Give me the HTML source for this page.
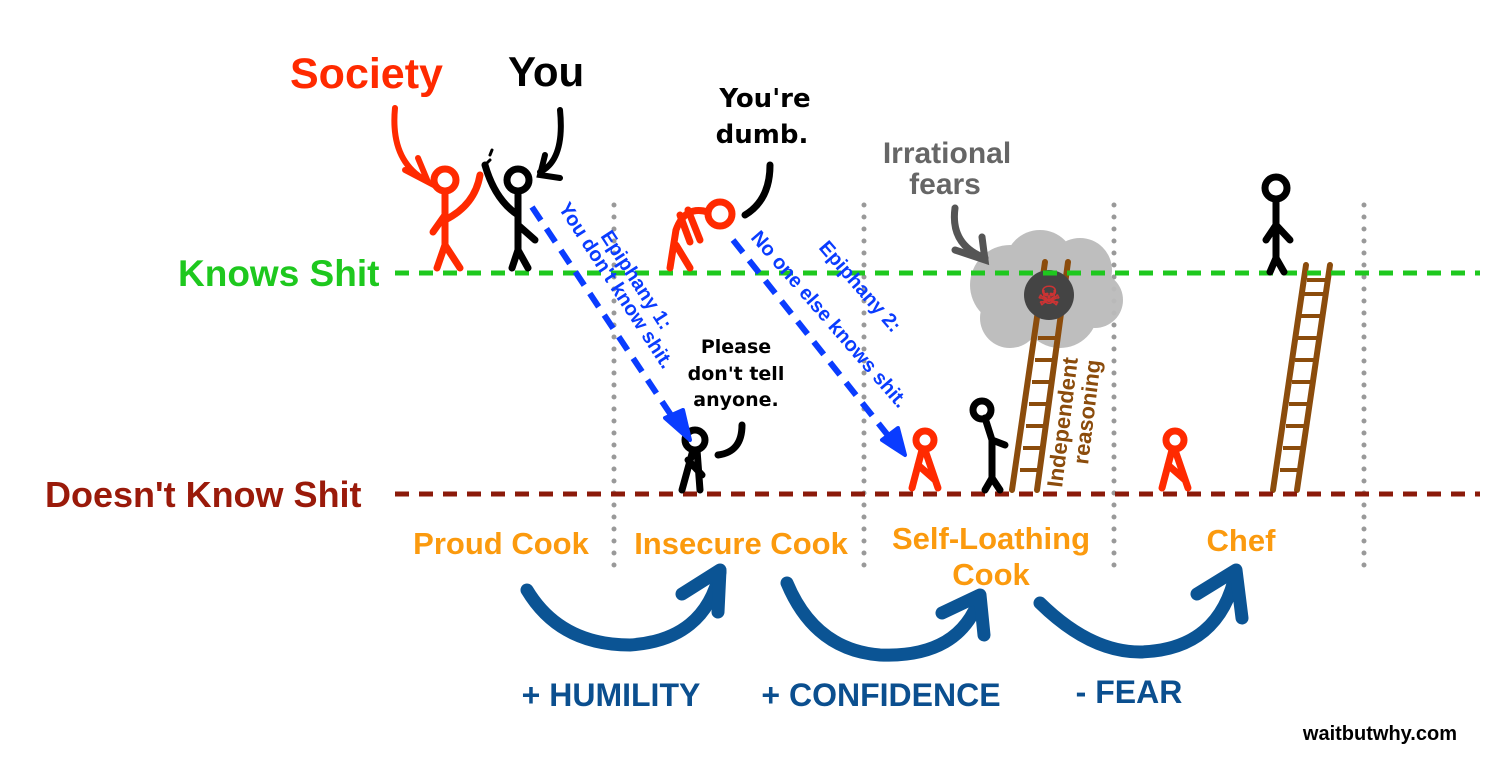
<!DOCTYPE html>
<html><head><meta charset="utf-8"><style>
html,body{margin:0;padding:0;background:#fff;}
svg{display:block}
text{font-family:"Liberation Sans",sans-serif;font-weight:bold}
.c{font-family:"Comic Sans MS","DejaVu Sans",sans-serif;font-weight:bold}
</style></head><body>
<svg width="1509" height="773" viewBox="0 0 1509 773" xmlns="http://www.w3.org/2000/svg">
<g stroke="#999" stroke-width="5" stroke-linecap="round" stroke-dasharray="0 12">
<line x1="614" y1="205" x2="614" y2="575"/><line x1="864" y1="205" x2="864" y2="575"/>
<line x1="1114" y1="205" x2="1114" y2="575"/><line x1="1364" y1="205" x2="1364" y2="575"/>
</g>
<g fill="#bbb" opacity="0.95">
<circle cx="1010" cy="285" r="40"/><circle cx="1040" cy="265" r="35"/><circle cx="1080" cy="270" r="32"/><circle cx="1095" cy="300" r="28"/><circle cx="1060" cy="310" r="38"/><circle cx="1010" cy="318" r="30"/>
</g>
<g stroke="#8b4c0c" stroke-width="6" stroke-linecap="round" fill="none">
<line x1="1045" y1="262" x2="1012" y2="490"/><line x1="1068" y1="262" x2="1037" y2="490"/>
<line x1="1306" y1="265" x2="1273" y2="490"/><line x1="1330" y1="265" x2="1297" y2="490"/>
</g>
<g stroke="#8b4c0c" stroke-width="4">
<line x1="1020" y1="470" x2="1040" y2="470"/><line x1="1023" y1="448" x2="1043" y2="448"/><line x1="1026" y1="426" x2="1046" y2="426"/><line x1="1029" y1="404" x2="1049" y2="404"/><line x1="1032" y1="382" x2="1052" y2="382"/><line x1="1035" y1="360" x2="1055" y2="360"/><line x1="1038" y1="338" x2="1058" y2="338"/><line x1="1041" y1="316" x2="1061" y2="316"/><line x1="1044" y1="294" x2="1064" y2="294"/>
<line x1="1280" y1="470" x2="1300" y2="470"/><line x1="1283" y1="448" x2="1303" y2="448"/><line x1="1286" y1="426" x2="1306" y2="426"/><line x1="1289" y1="404" x2="1309" y2="404"/><line x1="1292" y1="382" x2="1312" y2="382"/><line x1="1295" y1="360" x2="1315" y2="360"/><line x1="1298" y1="338" x2="1318" y2="338"/><line x1="1301" y1="316" x2="1321" y2="316"/><line x1="1304" y1="294" x2="1324" y2="294"/><line x1="1307" y1="280" x2="1327" y2="280"/>
</g>
<circle cx="1049" cy="295" r="25" fill="#444"/>
<text x="1049" y="305" font-size="26" fill="#c33" text-anchor="middle">☠</text>
<line x1="395" y1="273" x2="1480" y2="273" stroke="#1ec81e" stroke-width="5" stroke-dasharray="14 10"/>
<line x1="395" y1="494" x2="1480" y2="494" stroke="#8b1a0a" stroke-width="5" stroke-dasharray="14 10"/>
<text x="178" y="286" font-size="37" fill="#1ec81e">Knows Shit</text>
<text x="45" y="507" font-size="36" fill="#9a1a0a">Doesn't Know Shit</text>
<text x="290" y="88" font-size="43" fill="#ff2a00">Society</text>
<text x="508" y="86" font-size="42" fill="#000">You</text>
<path d="M395,108 Q390,160 425,180" stroke="#ff2a00" stroke-width="6" fill="none" stroke-linecap="round"/>
<path d="M405,170 L428,182 L418,158" stroke="#ff2a00" stroke-width="6" fill="none" stroke-linecap="round"/>
<path d="M560,110 Q565,160 540,172" stroke="#000" stroke-width="6" fill="none" stroke-linecap="round"/>
<path d="M545,155 L540,175 L560,178" stroke="#000" stroke-width="6" fill="none" stroke-linecap="round"/>
<path d="M955,208 Q950,245 985,258" stroke="#555" stroke-width="7" fill="none" stroke-linecap="round"/>
<path d="M955,250 L985,260 L982,237" stroke="#555" stroke-width="7" fill="none" stroke-linecap="round"/>
<g fill="none" stroke-width="7" stroke-linecap="round">
<g stroke="#ff2a00">
<circle cx="445" cy="180" r="11"/><line x1="445" y1="192" x2="445" y2="245"/><path d="M437,268 L445,245 L460,268"/><path d="M445,220 Q475,205 480,175"/><path d="M445,215 L433,232"/>
<circle cx="720" cy="214" r="12"/><path d="M708,212 Q685,205 676,230 L670,268"/><path d="M676,245 L690,268"/><path d="M688,210 L700,240"/><path d="M680,215 L690,242"/>
<circle cx="925" cy="440" r="9"/><path d="M922,450 L912,488 M925,450 L938,488 M918,465 L935,480"/>
<circle cx="1175" cy="440" r="9"/><path d="M1172,450 L1162,488 M1175,450 L1188,488 M1168,465 L1185,480"/>
</g>
<g stroke="#000">
<circle cx="518" cy="180" r="11"/><line x1="518" y1="192" x2="518" y2="250"/><path d="M512,268 L518,250 L528,268"/><path d="M518,215 Q495,200 485,165"/><path d="M518,225 L535,240"/>
<circle cx="695" cy="440" r="10"/><path d="M693,450 L682,490 M697,450 L700,490 M688,460 L702,475"/>
<circle cx="982" cy="410" r="9"/><path d="M985,418 L992,440 L992,480 M985,490 L992,478 L1000,490 M992,440 L1005,445"/>
<circle cx="1276" cy="188" r="11"/><line x1="1276" y1="200" x2="1276" y2="258"/><path d="M1270,272 L1276,258 L1284,272"/><path d="M1266,240 L1276,225 L1290,240"/>
</g>
<path d="M745,215 Q770,200 770,165" stroke="#000"/>
<path d="M718,455 Q742,452 742,425" stroke="#000"/>
<path d="M485,165 L490,160 M490,155 L492,150" stroke="#000" stroke-width="3"/>
</g>
<g stroke="#0a3cff" stroke-width="6" stroke-dasharray="16 10" fill="none">
<line x1="532" y1="207" x2="673" y2="418"/>
<line x1="733" y1="240" x2="890" y2="438"/>
</g>
<path d="M665,418 L690,440 L683,410 Z" fill="#0a3cff" stroke="#0a3cff" stroke-width="4" stroke-linejoin="round"/>
<path d="M882,440 L905,455 L898,428 Z" fill="#0a3cff" stroke="#0a3cff" stroke-width="4" stroke-linejoin="round"/>
<g fill="#0a3cff" font-size="20">
<text transform="translate(600,236) rotate(57)">Epiphany 1:</text>
<text transform="translate(558,208) rotate(57)">You don't know shit.</text>
<text transform="translate(818,248) rotate(49)">Epiphany 2:</text>
<text transform="translate(750,238) rotate(49)">No one else knows shit.</text>
</g>
<text transform="translate(1062,488) rotate(-83)" font-size="22" fill="#8b4c0c">Independent</text>
<text transform="translate(1088,465) rotate(-83)" font-size="22" fill="#8b4c0c">reasoning</text>
<g fill="#000" font-size="26" text-anchor="middle">
<text class="c" x="765" y="107">You're</text><text class="c" x="762" y="143">dumb.</text>
</g>
<g fill="#000" font-size="19" text-anchor="middle">
<text class="c" x="736" y="353">Please</text><text class="c" x="736" y="380">don't tell</text><text class="c" x="736" y="406">anyone.</text>
</g>
<g fill="#666" font-size="30" text-anchor="middle">
<text x="947" y="163">Irrational</text><text x="945" y="194">fears</text>
</g>
<g fill="#fb9a0e" font-size="31" text-anchor="middle" font-weight="normal">
<text x="501" y="554">Proud Cook</text>
<text x="741" y="554">Insecure Cook</text>
<text x="991" y="549">Self-Loathing</text>
<text x="991" y="585">Cook</text>
<text x="1241" y="551">Chef</text>
</g>
<g stroke="#0b5494" stroke-width="13" fill="none" stroke-linecap="round" stroke-linejoin="round">
<path d="M527,590 Q560,645 630,645 Q705,640 720,572"/>
<path d="M682,594 L720,570 L718,612"/>
<path d="M787,583 Q815,650 880,655 Q960,658 980,597"/>
<path d="M942,613 L980,595 L984,635"/>
<path d="M1040,603 Q1090,652 1140,652 Q1220,650 1236,572"/>
<path d="M1197,594 L1236,570 L1242,618"/>
</g>
<g fill="#0b4f8f" font-size="32" text-anchor="middle">
<text x="611" y="706">+ HUMILITY</text>
<text x="881" y="706">+ CONFIDENCE</text>
<text x="1129" y="703">- FEAR</text>
</g>
<text x="1457" y="740" font-size="20" fill="#000" text-anchor="end">waitbutwhy.com</text>
</svg>
</body></html>
